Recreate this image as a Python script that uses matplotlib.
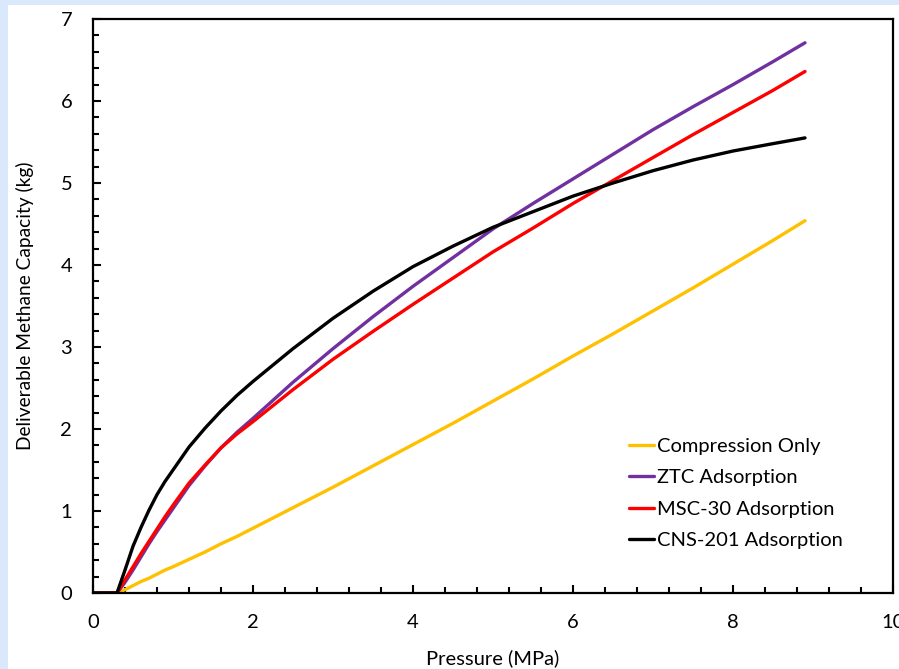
import matplotlib
matplotlib.use('Agg')
import matplotlib.pyplot as plt
from matplotlib.patches import Rectangle
from matplotlib.ticker import MultipleLocator

plt.rcParams['font.family'] = ['Lato', 'DejaVu Sans']

# pressure grid (MPa)
pressure = [0, 0.3, 0.4, 0.5, 0.6, 0.7, 0.8, 0.9, 1.0, 1.2, 1.4, 1.6, 1.8, 2.0,
            2.5, 3.0, 3.5, 4.0, 4.5, 5.0, 5.5, 6.0, 6.5, 7.0, 7.5, 8.0, 8.5, 8.9]

compression = [0, 0, 0.04, 0.09, 0.14, 0.18, 0.23, 0.28, 0.32, 0.41, 0.50, 0.60, 0.69, 0.79,
               1.04, 1.29, 1.55, 1.81, 2.07, 2.34, 2.61, 2.89, 3.16, 3.44, 3.72, 4.01, 4.30, 4.54]
ztc = [0, 0, 0.13, 0.28, 0.44, 0.60, 0.75, 0.89, 1.03, 1.31, 1.55, 1.77, 1.96, 2.13,
       2.57, 2.98, 3.37, 3.74, 4.09, 4.44, 4.75, 5.05, 5.35, 5.65, 5.93, 6.20, 6.48, 6.71]
msc30 = [0, 0, 0.16, 0.32, 0.48, 0.63, 0.78, 0.93, 1.07, 1.34, 1.56, 1.77, 1.94, 2.09,
         2.48, 2.85, 3.19, 3.52, 3.84, 4.16, 4.45, 4.75, 5.03, 5.31, 5.59, 5.86, 6.13, 6.36]
cns201 = [0, 0, 0.28, 0.57, 0.80, 1.01, 1.20, 1.36, 1.50, 1.78, 2.01, 2.22, 2.41, 2.58,
          2.98, 3.35, 3.68, 3.98, 4.23, 4.46, 4.65, 4.84, 5.00, 5.15, 5.28, 5.39, 5.48, 5.55]

series = [
    ("Compression Only", compression, "#FFC000"),
    ("ZTC Adsorption", ztc, "#7030A0"),
    ("MSC-30 Adsorption", msc30, "#FF0000"),
    ("CNS-201 Adsorption", cns201, "black"),
]

fig = plt.figure(figsize=(8.99, 6.69), dpi=100)
fig.patch.set_facecolor('#dae8fc')
# white page area, light blue strip on the left and top
fig.patches.append(Rectangle((8 / 899, 0), 1, 1 - 5 / 669, transform=fig.transFigure,
                             facecolor='white', edgecolor='none', zorder=-10))

ax = fig.add_axes([93 / 899, 1 - 593 / 669, 800 / 899, 574 / 669])
ax.set_facecolor('white')

for label, vals, color in series:
    ax.plot(pressure, vals, color=color, lw=2.4, label=label,
            solid_capstyle='round', solid_joinstyle='round')

ax.set_xlim(0, 10)
ax.set_ylim(0, 7)
ax.xaxis.set_major_locator(MultipleLocator(2))
ax.xaxis.set_minor_locator(MultipleLocator(0.4))
ax.yaxis.set_major_locator(MultipleLocator(1))
ax.yaxis.set_minor_locator(MultipleLocator(0.2))
ax.tick_params(which='both', direction='in', width=1.5, labelsize=14.5, pad=15)
ax.tick_params(which='major', length=6)
ax.tick_params(which='minor', length=4)
ax.tick_params(axis='x', which='both', top=False)
ax.tick_params(axis='y', which='both', right=False)
for sp in ax.spines.values():
    sp.set_linewidth(1.6)

ax.set_xlabel("Pressure (MPa)", fontsize=14.5, labelpad=13)
ax.set_ylabel("Deliverable Methane Capacity (kg)", fontsize=13.8, labelpad=19)

ax.legend(loc='lower left', bbox_to_anchor=(0.67, 0.077), frameon=False,
          fontsize=14.5, handlelength=1.25, handletextpad=0.15, labelspacing=0.7,
          borderpad=0, borderaxespad=0)

fig.savefig('out.png', dpi=100)
